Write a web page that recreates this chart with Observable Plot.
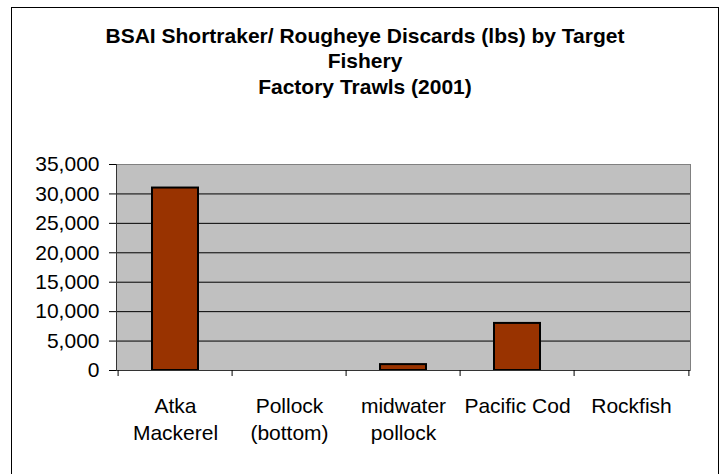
<!DOCTYPE html>
<html><head><meta charset="utf-8">
<script src="https://cdn.jsdelivr.net/npm/d3@7"></script>
<script src="https://cdn.jsdelivr.net/npm/@observablehq/plot@0.6"></script>
<style>
body{margin:0;background:#fff}
#wrap{position:relative;width:728px;height:474px;overflow:hidden;font-family:"Liberation Sans",Arial,sans-serif;background:#fff}
#border{position:absolute;left:11px;top:7px;width:708px;height:480px;border:1px solid #000;box-sizing:border-box}
#title{position:absolute;left:11px;top:22.6px;width:708px;text-align:center;font-weight:bold;font-size:21px;line-height:25.7px;color:#000}
#chart{position:absolute;left:0;top:120px}
</style></head><body>
<div id="wrap">
<div id="title">BSAI Shortraker/ Rougheye Discards (lbs) by Target<br>Fishery<br>Factory Trawls (2001)</div>
<div id="chart"></div>
<div id="border"></div>
</div>
<script>
const categories = ["Atka Mackerel", "Pollock (bottom)", "midwater pollock", "Pacific Cod", "Rockfish"];
const tickLabels = ["Atka\nMackerel", "Pollock\n(bottom)", "midwater\npollock", "Pacific Cod", "Rockfish"];
const discards = [31000, 0, 1000, 8000, 0];
const yTicks = [0, 5000, 10000, 15000, 20000, 25000, 30000, 35000];
const gridTicks = [5000, 10000, 15000, 20000, 25000, 30000];

const data = categories.map((c, i) => ({cat: c, value: discards[i]}));
const labelOf = new Map(categories.map((c, i) => [c, tickLabels[i]]));

const W = 728, H = 354, mL = 116, mR = 38, mT = 44, mB = 104;
const step = (W - mL - mR) / categories.length;

const chart = Plot.plot({
  width: W, height: H,
  marginTop: mT, marginLeft: mL, marginRight: mR, marginBottom: mB,
  style: {fontFamily: '"Liberation Sans", Arial, sans-serif', fontSize: "21px", color: "#000", background: "transparent"},
  x: {domain: categories, paddingInner: 0.6, paddingOuter: 0.3, label: null, axis: null},
  y: {domain: [0, 35000], label: null, axis: null},
  marks: [
    Plot.frame({fill: "#c0c0c0", stroke: "#808080"}),
    Plot.gridY(gridTicks, {stroke: "#000", strokeOpacity: 1}),
    Plot.barY(data.filter(d => d.value > 0), {x: "cat", y: "value", fill: "#993300", stroke: "#000", strokeWidth: 2}),
    Plot.frame({anchor: "left", stroke: "#333"}),
    Plot.ruleY([0], {stroke: "#333"}),
    Plot.axisY({ticks: yTicks, tickFormat: d3.format(","), tickSize: 7, tickPadding: 10, stroke: "#000", label: null}),
    Plot.axisX({ticks: categories, tickSize: 6, tickFormat: () => "", dx: -step / 2, stroke: "#000", label: null}),
    Plot.axisX({ticks: [categories[categories.length - 1]], tickSize: 6, tickFormat: () => "", dx: step / 2, stroke: "#000", label: null}),
    Plot.axisX({ticks: categories, tickSize: 0, tickPadding: 23, tickFormat: d => labelOf.get(d), lineHeight: 1.3, label: null})
  ]
});
document.getElementById("chart").appendChild(chart);
</script>
</body></html>
